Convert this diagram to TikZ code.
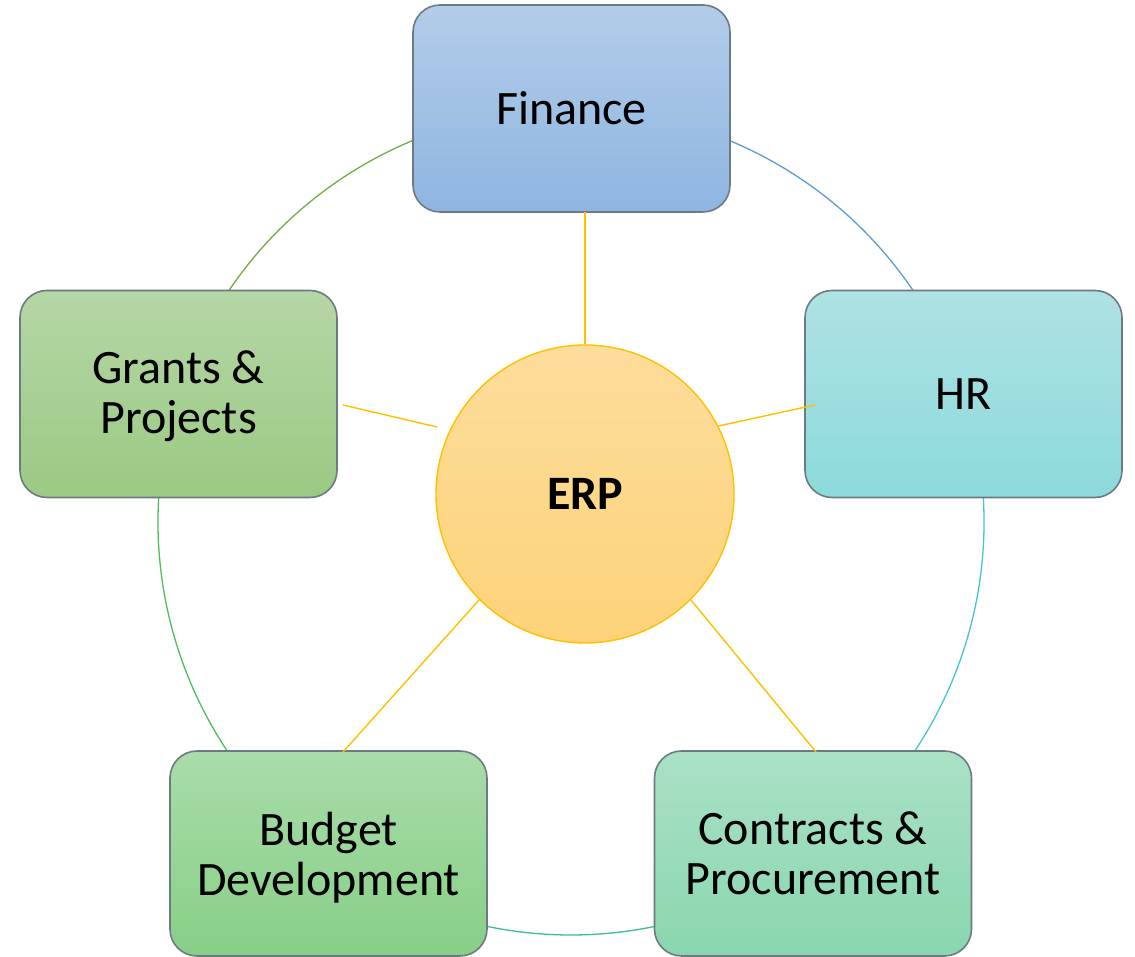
\documentclass[tikz,border=0pt]{standalone}
\usepackage{fontspec}
\setmainfont{Carlito}
\definecolor{boxline}{HTML}{6E7A82}
\definecolor{erpline}{HTML}{FFC000}
\definecolor{ringblue}{HTML}{5B9BD5}
\definecolor{ringcyan}{HTML}{45C6CE}
\definecolor{ringteal}{HTML}{3DBF88}
\definecolor{ringgreen}{HTML}{4CBF5A}
\definecolor{ringolive}{HTML}{70AD47}
\definecolor{finT}{HTML}{B2CDE9}\definecolor{finB}{HTML}{8FB5E1}
\definecolor{hrT}{HTML}{AFE2E4}\definecolor{hrB}{HTML}{8CDADB}
\definecolor{graT}{HTML}{B6D6A6}\definecolor{graB}{HTML}{9ACA83}
\definecolor{budT}{HTML}{A9DCA9}\definecolor{budB}{HTML}{87CF87}
\definecolor{conT}{HTML}{AAE1C6}\definecolor{conB}{HTML}{89D6AE}
\definecolor{erpT}{HTML}{FDDD9C}\definecolor{erpB}{HTML}{FDD379}
\begin{document}
\begin{tikzpicture}[x=1pt,y=1pt,
  box/.style={rectangle, rounded corners=27pt, minimum width=317pt, minimum height=207pt,
    draw=boxline, line width=1.6pt, align=center, inner sep=0pt,
    font=\fontsize{48}{50}\selectfont},
  spoke/.style={draw=erpline, line width=1.4pt},
  ring/.style={line width=1.3pt}]
\useasboundingbox (0,0) rectangle (1135,957);
% outer ring
\coordinate (rc) at (571,435);
\draw[ring, ringblue]  (rc) ++(18:413)  arc[start angle=18,  end angle=90,  radius=413];
\draw[ring, ringolive] (rc) ++(90:413)  arc[start angle=90,  end angle=162, radius=413];
\draw[ring, ringgreen] (rc) ++(162:413) arc[start angle=162, end angle=234, radius=413];
\draw[ring, ringteal]  (rc) ++(234:413) arc[start angle=234, end angle=306, radius=413];
\draw[ring, ringcyan]  (rc) ++(306:413) arc[start angle=306, end angle=378, radius=413];
% boxes
\node[box, top color=finT, bottom color=finB] (fin) at (571.5,848.5) {Finance};
\node[box, top color=hrT, bottom color=hrB] (hr) at (963.5,563) {HR};
\node[box, text depth=4pt, top color=graT, bottom color=graB] (gra) at (178.5,563) {Grants \&\\Projects};
\node[box, text depth=0pt, minimum height=205pt, top color=budT, bottom color=budB] (bud) at (328.5,103.5) {Budget\\Development};
\node[box, minimum height=205pt, top color=conT, bottom color=conB] (con) at (813,103.5) {Contracts \&\\Procurement};
% center
\node[circle, minimum size=298pt, inner sep=0pt, draw=erpline, line width=1.4pt,
  top color=erpT, bottom color=erpB,
  font=\fontsize{48}{50}\selectfont\bfseries] (erp) at (585,463) {ERP};
% spoke ends
\coordinate (finE) at (585,745);
\coordinate (hrE) at (815,552);
\coordinate (graS) at (437,530);
\coordinate (graE) at (343,552);
\coordinate (budE) at (343,205);
\coordinate (conE) at (816,205);
\draw[spoke] (erp.north) -- (finE);
\draw[spoke] (erp.27.4) -- (hrE);
\draw[spoke] (graS) -- (graE);
\draw[spoke] (erp.225.8) -- (budE);
\draw[spoke] (erp.-45.8) -- (conE);
\end{tikzpicture}
\end{document}
